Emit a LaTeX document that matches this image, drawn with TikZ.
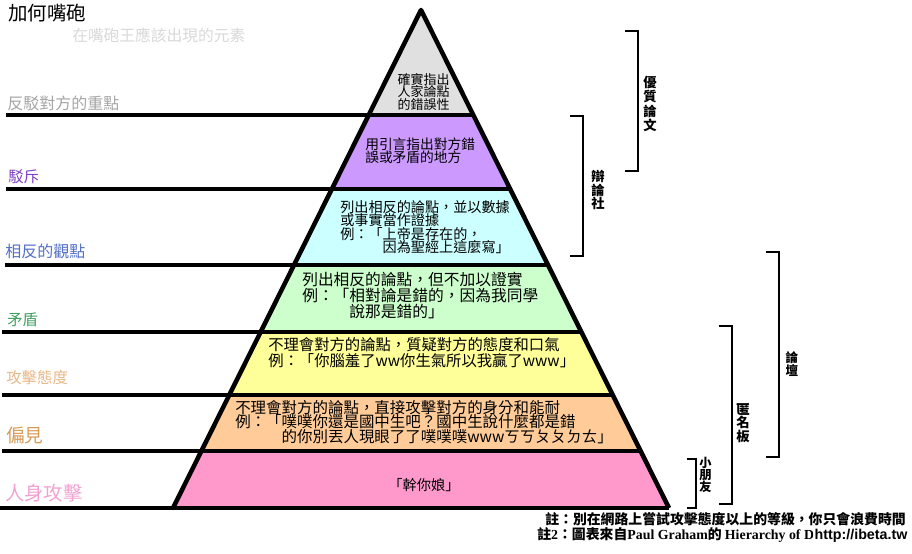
\documentclass[tikz,border=0pt]{standalone}
\usepackage{fontspec}
\setmainfont{Noto Sans CJK TC}
\newfontfamily\lserif{Liberation Serif}
\newfontfamily\lsans{Liberation Sans}
\newcommand\fsz[2]{\fontsize{#1}{#2}\selectfont\lineskiplimit=-\maxdimen\relax}
\definecolor{tierA}{HTML}{E0E0E0}
\definecolor{tierB}{HTML}{CC99FF}
\definecolor{tierC}{HTML}{CCFFFF}
\definecolor{tierD}{HTML}{CCFFCC}
\definecolor{tierE}{HTML}{FFFF99}
\definecolor{tierF}{HTML}{FFCC99}
\definecolor{tierG}{HTML}{FF99CC}
\definecolor{sideA}{HTML}{A6A6A6}
\definecolor{sideB}{HTML}{7F3FBF}
\definecolor{sideC}{HTML}{5470C8}
\definecolor{sideD}{HTML}{40A060}
\definecolor{sideE}{HTML}{E8B888}
\definecolor{sideF}{HTML}{D79B5A}
\definecolor{sideG}{HTML}{F2A2D2}
\definecolor{subgray}{HTML}{D9D9D9}
\tikzset{
	rung/.style={line width=3.4pt},
	brk/.style={line width=1.1pt},
	side/.style={anchor=west,inner sep=0pt},
	tiertext/.style={anchor=west,inner sep=0pt,align=left},
	grp/.style={inner sep=0pt,align=center}
}

\begin{document}
\begin{tikzpicture}[x=0.75pt,y=-0.75pt]
\fill[white] (0,0) rectangle (912,553);
\useasboundingbox (0,0) rectangle (912,553);

%tiers
\foreach \ya/\yb/\col in {10/115/tierA,115/189/tierB,189/265/tierC,265/332/tierD,332/395/tierE,395/451/tierF,451/508/tierG}
	\fill[\col] ({421-0.498*(\ya-10)},\ya) -- ({421+0.498*(\ya-10)},\ya) -- ({421+0.498*(\yb-10)},\yb) -- ({421-0.498*(\yb-10)},\yb) -- cycle;
\foreach \yy/\xs in {115/6,189/6,265/5,332/2,395/2,451/2,508/0}
	\draw[rung] (\xs,\yy) -- ({421+0.498*(\yy-10)},\yy);
\draw[rung,line join=round] (173,508) -- (421,10) -- (669,508);

%title
\node[side,font=\fsz{14.6}{14.6}] (title) at (8,13) {加何嘴砲};
\node[side,font=\fsz{11.8}{11.8},text=subgray] (subtitle) at (72,35) {在嘴砲王應該出現的元素};

%side labels
\node[side,font=\fsz{12}{12},text=sideA] (rebut) at (7,103) {反駁對方的重點};
\node[side,font=\fsz{11.5}{11.5},text=sideB] (refute) at (8,177) {駁斥};
\node[side,font=\fsz{12}{12},text=sideC] (counter) at (5,251) {相反的觀點};
\node[side,font=\fsz{11.5}{11.5},text=sideD] (contra) at (7,320) {矛盾};
\node[side,font=\fsz{11.6}{11.6},text=sideE] (tone) at (6,378) {攻擊態度};
\node[side,font=\fsz{14}{14},text=sideF] (bias) at (6,435) {偏見};
\node[side,font=\fsz{14.5}{14.5},text=sideG] (adhom) at (5,493) {人身攻擊};

%tier texts
\node[grp,font=\fsz{9.75}{9.6}] (tA) at (423.5,92) {確實指出\\人家論點\\的錯誤性};
\node[tiertext,font=\fsz{10.3}{10}] (tB) at (365,150.5) {用引言指出對方錯\\誤或矛盾的地方};
\node[tiertext,font=\fsz{10.6}{10}] (tC) at (340,227) {列出相反的論點，並以數據\\或事實當作證據\\例：「上帝是存在的，\\\phantom{例：「}因為聖經上這麼寫」};
\node[tiertext,font=\fsz{11.8}{12}] (tD) at (302,295) {列出相反的論點，但不加以證實\\例：「相對論是錯的，因為我同學\\\phantom{例：「}說那是錯的」};
\node[tiertext,font=\fsz{11.5}{12.2}] (tE) at (268,353) {不理會對方的論點，質疑對方的態度和口氣\\例：「你腦羞了ww你生氣所以我贏了www」};
\node[tiertext,font=\fsz{11.6}{11}] (tF) at (235,422) {不理會對方的論點，直接攻擊對方的身分和能耐\\例：「噗噗你還是國中生吧？國中生說什麼都是錯\\\phantom{例：「}的你別丟人現眼了了噗噗噗wwwㄎㄎㄆㄆㄉㄊ」};
\node[grp,font=\fsz{10.7}{10.7}] (tG) at (424,485) {「幹你娘」};

%groups
\foreach \xt/\xv/\yt/\yb in {625/638/31/171,570/583/116/256,766/779/252/457,719/732/326/504,687/696/459/508}
	\draw[brk] (\xt,\yt) -- (\xv,\yt) -- (\xv,\yb) -- (\xt,\yb);
\node[grp,font=\fsz{10}{10.9}\bfseries] (elite) at (650,104) {優\\質\\論\\文};
\node[grp,font=\fsz{10}{10}\bfseries] (debate) at (598,190) {辯\\論\\社};
\node[grp,font=\fsz{9.5}{9.4}\bfseries] (forum) at (792,364) {論\\壇};
\node[grp,font=\fsz{10}{10}\bfseries] (anon) at (743,423) {匿\\名\\板};
\node[grp,font=\fsz{9.2}{9}\bfseries] (kids) at (705.5,475) {小\\朋\\友};

%notes
\node[side,font=\fsz{10.4}{10.4}\bfseries] (note1) at (545,519) {註：別在網路上嘗試攻擊態度以上的等級，你只會浪費時間};
\node[side,font=\fsz{10.4}{10.4}\bfseries] (note2) at (537,535) {註{\lserif 2}：圖表來自{\lserif Paul Graham}的 {\lserif Hierarchy of Disagreement}};
\node[anchor=east,fill=white,inner sep=1pt,rounded corners=2pt,font=\lsans\fsz{10.7}{10.7}\bfseries] (mark) at (909,536) {http://ibeta.tw};
\end{tikzpicture}
\end{document}
